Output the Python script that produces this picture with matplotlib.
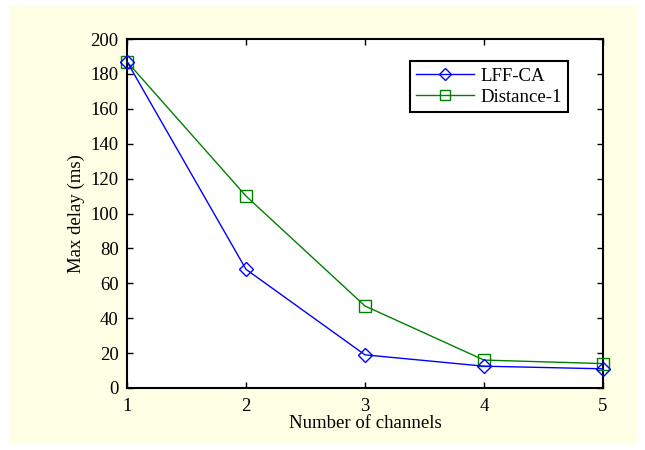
import matplotlib
matplotlib.use("Agg")
import matplotlib.pyplot as plt
from matplotlib.patches import Rectangle

# data
channels = [1, 2, 3, 4, 5]
lff_ca = [187, 68, 19, 12.5, 11]
distance_1 = [187, 110, 47, 16, 14]
y_ticks = [0, 20, 40, 60, 80, 100, 120, 140, 160, 180, 200]

plt.rcParams['font.family'] = ['Liberation Serif', 'DejaVu Serif']
plt.rcParams['font.size'] = 13.5

fig = plt.figure(figsize=(6.45, 4.5), dpi=100, facecolor='white')
# cream panel behind the axes
fig.add_artist(Rectangle((9 / 645, 1 - 443 / 450), 628 / 645, 437 / 450,
                         transform=fig.transFigure, facecolor='#FFFFE6',
                         edgecolor='none', zorder=-5))

ax = fig.add_axes([127 / 645, 1 - 388 / 450, 476 / 645, 349 / 450])
ax.set_facecolor('white')

ax.plot(channels, lff_ca, color='#0000FF', marker='D', markersize=7,
        markerfacecolor='none', markeredgewidth=1.0, linewidth=1.0,
        label='LFF-CA', clip_on=False, zorder=4)
ax.plot(channels, distance_1, color='#008000', marker='s', markersize=9,
        markerfacecolor='none', markeredgewidth=1.0, linewidth=1.0,
        label='Distance-1', clip_on=False, zorder=3)

ax.set_xlim(1, 5)
ax.set_ylim(0, 200)
ax.set_xticks(channels)
ax.set_yticks(y_ticks)
ax.tick_params(direction='in', top=True, right=True, length=4, width=1, pad=6)
ax.tick_params(axis='x', pad=7)
for s in ax.spines.values():
    s.set_linewidth(1.5)

ax.set_xlabel('Number of channels', labelpad=0)
ax.set_ylabel('Max delay (ms)', labelpad=4)

leg = ax.legend(loc='upper right', bbox_to_anchor=(568 / 645, 1 - 61 / 450),
                bbox_transform=fig.transFigure, fancybox=False, framealpha=1,
                edgecolor='black', handlelength=3.1, borderpad=0.35,
                labelspacing=0.2, handletextpad=0.3, borderaxespad=0,
                markerscale=0.85)
leg.get_frame().set_linewidth(1.5)

fig.savefig('out.png', dpi=100, facecolor=fig.get_facecolor())
